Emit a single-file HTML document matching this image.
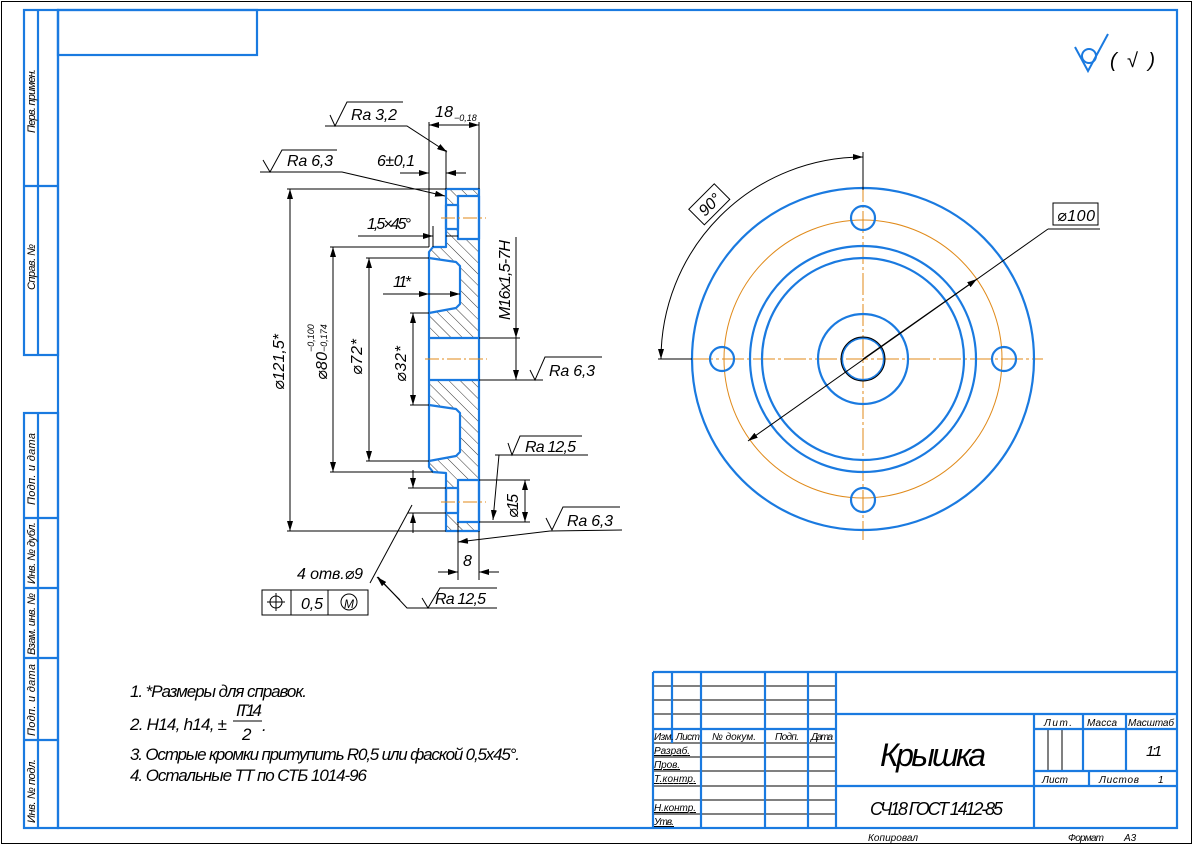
<!DOCTYPE html>
<html><head><meta charset="utf-8"><style>
html,body{margin:0;padding:0;background:#fff}
svg{display:block}
text{font-family:"Liberation Sans","DejaVu Sans",sans-serif;font-style:italic;fill:#000}
</style></head><body>
<svg width="1194" height="846" viewBox="0 0 1194 846" xmlns="http://www.w3.org/2000/svg">
<defs>
<marker id="a" viewBox="0 0 10 6" refX="10" refY="3" markerWidth="10" markerHeight="6" orient="auto-start-reverse" markerUnits="userSpaceOnUse"><path d="M0,0 L10,3 L0,6z" fill="#000"/></marker>
<pattern id="h" width="8" height="8" patternUnits="userSpaceOnUse" patternTransform="rotate(-45)"><line x1="0" y1="0" x2="0" y2="8" stroke="#000" stroke-width="0.8"/></pattern>
</defs>
<rect x="1.5" y="1.5" width="1190" height="842" fill="none" stroke="#000" stroke-width="1"/>
<g stroke="#1a7ae0" stroke-width="2.2" fill="none">
<rect x="58" y="10" width="1119" height="818"/>
<rect x="58" y="10" width="199" height="45"/>
<rect x="24" y="10" width="34" height="345"/>
<line x1="38" y1="10" x2="38" y2="355"/><line x1="24" y1="186" x2="58" y2="186"/>
<rect x="24" y="413" width="34" height="415"/>
<line x1="38" y1="413" x2="38" y2="828"/>
<line x1="24" y1="518" x2="58" y2="518"/><line x1="24" y1="588" x2="58" y2="588"/>
<line x1="24" y1="658" x2="58" y2="658"/><line x1="24" y1="740" x2="58" y2="740"/>
</g>
<g font-size="11">
<text transform="translate(35,133) rotate(-90)" textLength="64">Перв. примен.</text>
<text transform="translate(35,290) rotate(-90)" textLength="46">Справ. №</text>
<text transform="translate(35,505) rotate(-90)" textLength="72">Подп. и дата</text>
<text transform="translate(35,584) rotate(-90)" textLength="62">Инв. № дубл.</text>
<text transform="translate(35,655) rotate(-90)" textLength="62">Взам. инв. №</text>
<text transform="translate(35,736) rotate(-90)" textLength="72">Подп. и дата</text>
<text transform="translate(35,823) rotate(-90)" textLength="64">Инв. № подл.</text>
</g>
<!-- roughness -->
<g stroke="#1a7ae0" stroke-width="2" fill="none"><polyline points="1075,47 1088,71 1108,34"/><circle cx="1089" cy="56" r="7"/></g>
<text x="1110" y="67" font-size="20" textLength="45">(√)</text>

<!-- Section view -->
<g fill="url(#h)" stroke="none">
<path d="M446,189 L479,189 L479,196 L458,196 L458,239 L479,239 L479,338 L429,338 L429,313 L460,308 L460,262 L429,258 L429,252 L433,247 L446,247 L446,229 L458,229 L458,205 L446,205z"/>
<path d="M429,380 L479,380 L479,480 L458,480 L458,522 L479,522 L479,531 L446,531 L446,513 L458,513 L458,488 L446,488 L446,473 L433,472 L429,467 L429,461 L460,456 L460,410 L429,405z"/>
</g>
<g stroke="#1a7ae0" stroke-width="2.2" fill="none" stroke-linejoin="round">
<path d="M446,189 L479,189 L479,531 L446,531 L446,473 L433,472 L429,467 L429,252 L433,247 L446,247 Z"/>
<path d="M429,258 L456,262 L460,266 L460,304 L456,308 L429,313"/>
<path d="M429,405 L456,409 L460,413 L460,452 L456,456 L429,461"/>
<line x1="429" y1="338" x2="479" y2="338"/><line x1="429" y1="380" x2="479" y2="380"/>
<rect x="458" y="196" width="21" height="43"/><rect x="446" y="205" width="12" height="24"/>
<rect x="458" y="480" width="21" height="42"/><rect x="446" y="488" width="12" height="25"/>
</g>
<g stroke="#e08a1a" stroke-width="1" stroke-dasharray="14,3,2,3">
<line x1="441" y1="218" x2="486" y2="218"/><line x1="441" y1="502" x2="486" y2="502"/><line x1="425" y1="359" x2="487" y2="359"/>
</g>
<g stroke="#000" stroke-width="1" fill="none">
<!-- 18 -->
<line x1="429" y1="122" x2="429" y2="247"/><line x1="479" y1="122" x2="479" y2="189"/>
<line x1="429" y1="125" x2="479" y2="125" marker-start="url(#a)" marker-end="url(#a)"/>
<!-- Ra3,2 -->
<polyline points="330,115 335,126 347,102 403,102"/><polyline points="325,126 407,126 447,152" marker-end="url(#a)"/>
<!-- Ra6,3 top -->
<polyline points="263,160 270,172 282,150 337,150"/><polyline points="260,172 342,172 445,196" marker-end="url(#a)"/>
<!-- 6 -->
<line x1="446" y1="150" x2="446" y2="189"/>
<line x1="400" y1="173" x2="429" y2="173" marker-end="url(#a)"/><line x1="466" y1="173" x2="446" y2="173" marker-end="url(#a)"/>
<!-- 1.5x45 -->
<line x1="358" y1="236" x2="433" y2="236" marker-end="url(#a)"/><line x1="446" y1="236" x2="458" y2="236"/>
<line x1="433" y1="226" x2="433" y2="247"/>
<!-- dia 121.5 -->
<line x1="287" y1="189" x2="446" y2="189"/><line x1="287" y1="531" x2="446" y2="531"/>
<line x1="290" y1="189" x2="290" y2="531" marker-start="url(#a)" marker-end="url(#a)"/>
<!-- dia 80 -->
<line x1="330" y1="247" x2="429" y2="247"/><line x1="330" y1="472" x2="433" y2="472"/>
<line x1="333" y1="247" x2="333" y2="472" marker-start="url(#a)" marker-end="url(#a)"/>
<!-- dia 72 -->
<line x1="366" y1="258" x2="429" y2="258"/><line x1="366" y1="461" x2="429" y2="461"/>
<line x1="369" y1="258" x2="369" y2="461" marker-start="url(#a)" marker-end="url(#a)"/>
<!-- 11 -->
<line x1="383" y1="294" x2="429" y2="294" marker-end="url(#a)"/><line x1="460" y1="294" x2="429" y2="294" marker-start="url(#a)"/>
<!-- dia 32 -->
<line x1="410" y1="313" x2="429" y2="313"/><line x1="410" y1="405" x2="429" y2="405"/>
<line x1="413" y1="313" x2="413" y2="405" marker-start="url(#a)" marker-end="url(#a)"/>
<!-- M16 -->
<line x1="479" y1="338" x2="520" y2="338"/><line x1="479" y1="380" x2="520" y2="380"/>
<line x1="516" y1="237" x2="516" y2="338" marker-end="url(#a)"/><line x1="516" y1="380" x2="516" y2="380"/>
<line x1="516" y1="338" x2="516" y2="380" marker-end="url(#a)"/>
<!-- Ra6,3 right -->
<polyline points="530,370 535,380 545,357 602,357"/><line x1="516" y1="380" x2="543" y2="380"/>
<!-- Ra12,5 -->
<polyline points="508,443 512,455 520,436 582,436"/><line x1="495" y1="455" x2="588" y2="455"/>
<line x1="499" y1="455" x2="493" y2="520" marker-end="url(#a)"/>
<!-- dia 15 -->
<line x1="479" y1="480" x2="530" y2="480"/><line x1="479" y1="522" x2="530" y2="522"/>
<line x1="525" y1="480" x2="525" y2="522" marker-start="url(#a)" marker-end="url(#a)"/>
<!-- Ra6,3 bottom -->
<polyline points="546,518 552,530 563,507 620,507"/><polyline points="622,530 550,531 458,542" marker-end="url(#a)"/>
<!-- 8 -->
<line x1="458" y1="522" x2="458" y2="580"/><line x1="479" y1="531" x2="479" y2="580"/>
<line x1="438" y1="572" x2="458" y2="572" marker-end="url(#a)"/><line x1="499" y1="572" x2="479" y2="572" marker-end="url(#a)"/>
<!-- dia 9 -->
<line x1="408" y1="488" x2="446" y2="488"/><line x1="408" y1="513" x2="446" y2="513"/>
<line x1="413" y1="470" x2="413" y2="488" marker-end="url(#a)"/><line x1="413" y1="533" x2="413" y2="513" marker-end="url(#a)"/>
<polyline points="370,583 412,505"/>
<!-- Ra12,5 bottom -->
<polyline points="378,577 407,608 497,608"/>
<line x1="400" y1="600" x2="377" y2="577" marker-end="url(#a)"/>
<polyline points="422,598 428,608 440,588 497,588"/>
<!-- tolerance frame -->
<rect x="262" y="590" width="106" height="25"/><line x1="291" y1="590" x2="291" y2="615"/><line x1="328" y1="590" x2="328" y2="615"/>
<circle cx="276" cy="602" r="6"/><line x1="267" y1="602" x2="285" y2="602"/><line x1="276" y1="593" x2="276" y2="611"/>
<circle cx="349" cy="602" r="8"/>
</g>
<g font-size="16">
<text x="351" y="120" textLength="46">Ra 3,2</text>
<text x="435" y="117" textLength="18">18</text><text x="454" y="121" font-size="9">−0,18</text>
<text x="287" y="166" textLength="46">Ra 6,3</text>
<text x="377" y="166" textLength="38">6±0,1</text>
<text x="367" y="229" textLength="44">1,5×45°</text>
<text x="393" y="287" textLength="18">11*</text>
<text transform="translate(284,390) rotate(-90)" textLength="56">⌀121,5*</text>
<text transform="translate(327,380) rotate(-90)" textLength="28">⌀80</text>
<text transform="translate(314,352) rotate(-90)" font-size="9">−0,100</text>
<text transform="translate(327,352) rotate(-90)" font-size="9">−0,174</text>
<text transform="translate(362,375) rotate(-90)" textLength="36">⌀72*</text>
<text transform="translate(406,382) rotate(-90)" textLength="36">⌀32*</text>
<text transform="translate(510,320) rotate(-90)" textLength="80">M16x1,5-7H</text>
<text x="549" y="376" textLength="46">Ra 6,3</text>
<text x="525" y="452" textLength="51">Ra 12,5</text>
<text transform="translate(518,518) rotate(-90)" textLength="24">⌀15</text>
<text x="567" y="526" textLength="46">Ra 6,3</text>
<text x="463" y="566" textLength="10">8</text>
<text x="297" y="579" textLength="66">4 отв.⌀9</text>
<text x="301" y="609" textLength="22">0,5</text>
<text x="344" y="608" font-size="12" font-style="normal">M</text>
<text x="435" y="604" textLength="51">Ra 12,5</text>
</g>

<!-- Circle view -->
<g stroke="#e08a1a" stroke-width="1" fill="none">
<circle cx="863" cy="359" r="139"/>
<line x1="660" y1="359" x2="1043" y2="359" stroke-dasharray="22,3,3,3"/>
<line x1="863" y1="180" x2="863" y2="540" stroke-dasharray="22,3,3,3"/>
</g>
<g stroke="#1a7ae0" stroke-width="2.2" fill="none">
<circle cx="863" cy="359" r="171"/>
<circle cx="863" cy="359" r="113"/><circle cx="863" cy="359" r="101"/>
<circle cx="863" cy="359" r="45"/><circle cx="863" cy="359" r="21"/>
<circle cx="863" cy="218" r="12"/><circle cx="863" cy="500" r="12"/>
<circle cx="722" cy="359" r="12"/><circle cx="1004" cy="359" r="12"/>
</g>
<circle cx="863" cy="359" r="22" stroke="#000" stroke-width="1" fill="none"/>
<g stroke="#000" stroke-width="1" fill="none">
<line x1="863" y1="152" x2="863" y2="190"/><line x1="658" y1="359" x2="692" y2="359"/>
<path d="M863,157 A202,202 0 0 0 661,359" marker-start="url(#a)" marker-end="url(#a)"/>
<line x1="1048" y1="229" x2="748" y2="441" marker-end="url(#a)"/>
<line x1="863" y1="359" x2="977" y2="279" marker-end="url(#a)"/>
<line x1="1048" y1="229" x2="1100" y2="229"/>
<rect x="1053" y="203" width="45" height="22"/>
<g transform="translate(710,205) rotate(-45)"><rect x="-18" y="-12" width="36" height="22"/></g>
</g>
<text x="1057" y="221" font-size="16" textLength="38">⌀100</text>
<text transform="translate(705,217) rotate(-45)" font-size="16">90°</text>

<!-- Notes -->
<g font-size="17">
<text x="130" y="697" textLength="177">1.  *Размеры для справок.</text>
<text x="130" y="730" textLength="97">2. H14, h14, ±</text>
<text x="236" y="716" textLength="26">IT14</text>
<line x1="233" y1="721" x2="262" y2="721" stroke="#000" stroke-width="1"/>
<text x="242" y="740">2</text><text x="262" y="731">.</text>
<text x="130" y="760" textLength="390">3. Острые кромки притупить R0,5 или фаской 0,5x45°.</text>
<text x="130" y="781" textLength="237">4. Остальные ТТ по СТБ 1014-96</text>
</g>

<!-- Title block -->
<g stroke="#000" stroke-width="1">
<line x1="653" y1="686" x2="836" y2="686"/><line x1="653" y1="700" x2="836" y2="700"/>
<line x1="653" y1="714" x2="836" y2="714"/><line x1="653" y1="743" x2="836" y2="743"/>
<line x1="653" y1="757" x2="836" y2="757"/><line x1="653" y1="771" x2="836" y2="771"/>
<line x1="653" y1="786" x2="836" y2="786"/><line x1="653" y1="800" x2="836" y2="800"/>
<line x1="653" y1="814" x2="836" y2="814"/>
<line x1="1048" y1="729" x2="1048" y2="771"/><line x1="1062" y1="729" x2="1062" y2="771"/>
</g>
<g stroke="#1a7ae0" stroke-width="2.2" fill="none">
<line x1="653" y1="672" x2="1177" y2="672"/>
<line x1="653" y1="672" x2="653" y2="828"/>
<line x1="672" y1="672" x2="672" y2="743"/>
<line x1="701" y1="672" x2="701" y2="828"/>
<line x1="765" y1="672" x2="765" y2="828"/>
<line x1="808" y1="672" x2="808" y2="828"/>
<line x1="836" y1="672" x2="836" y2="828"/>
<line x1="653" y1="729" x2="836" y2="729"/>
<line x1="836" y1="714" x2="1177" y2="714"/>
<line x1="836" y1="786" x2="1177" y2="786"/>
<line x1="1034" y1="714" x2="1034" y2="828"/>
<line x1="1034" y1="729" x2="1177" y2="729"/>
<line x1="1034" y1="771" x2="1177" y2="771"/>
<line x1="1083" y1="714" x2="1083" y2="771"/>
<line x1="1126" y1="714" x2="1126" y2="771"/>
<line x1="1089" y1="771" x2="1089" y2="786"/>
</g>
<g font-size="10">
<text x="654" y="740" textLength="46">Изм. Лист</text>
<text x="712" y="740" textLength="44">№ докум.</text>
<text x="775" y="740" textLength="24">Подп.</text>
<text x="811" y="740" textLength="22">Дата</text>
<text x="654" y="754" textLength="36" text-decoration="underline">Разраб.</text>
<text x="654" y="768" textLength="26" text-decoration="underline">Пров.</text>
<text x="654" y="782" textLength="42" text-decoration="underline">Т.контр.</text>
<text x="654" y="811" textLength="42" text-decoration="underline">Н.контр.</text>
<text x="654" y="825" textLength="20" text-decoration="underline">Утв.</text>
<text x="1044" y="726" textLength="28">Лит.</text>
<text x="1087" y="726" textLength="30">Масса</text>
<text x="1128" y="726" textLength="46">Масштаб</text>
<text x="1042" y="783" textLength="26">Лист</text>
<text x="1099" y="783" textLength="40">Листов</text>
<text x="1158" y="783">1</text>
<text x="868" y="841" textLength="50">Копировал</text>
<text x="1068" y="841" textLength="36">Формат</text>
<text x="1124" y="841">А3</text>
</g>
<text x="1146" y="756" font-size="15" textLength="16">1:1</text>
<text x="880" y="766" font-size="32" textLength="106">Крышка</text>
<text x="870" y="815" font-size="18" textLength="133">СЧ18 ГОСТ 1412-85</text>
</svg>
</body></html>
